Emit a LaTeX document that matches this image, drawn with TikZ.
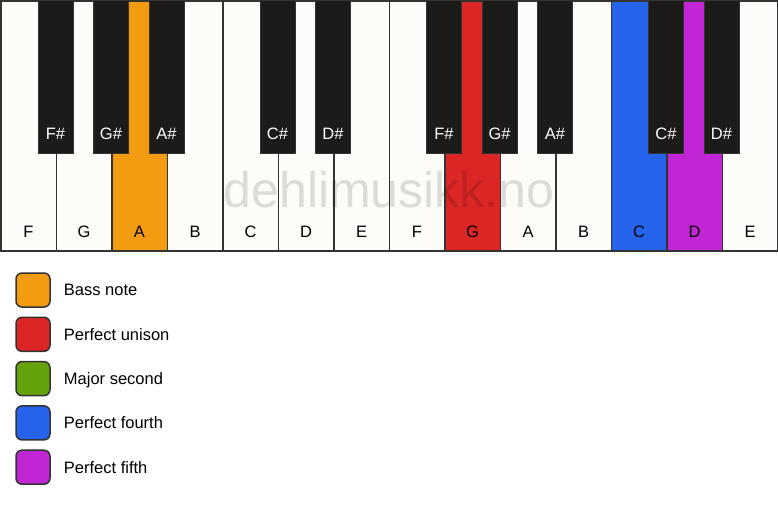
\documentclass[tikz,border=0pt]{standalone}
\usepackage{fontspec}
\setmainfont{Liberation Sans}
\usetikzlibrary{positioning}

\definecolor{keywhite}{HTML}{FDFCF9}
\definecolor{keyblack}{HTML}{1C1B1A}
\definecolor{keyline}{HTML}{333333}
\definecolor{bassorange}{HTML}{F39C12}
\definecolor{unisonred}{HTML}{DC2626}
\definecolor{secondgreen}{HTML}{65A30D}
\definecolor{fourthblue}{HTML}{2563EB}
\definecolor{fifthpurple}{HTML}{C026D3}

\begin{document}
\begin{tikzpicture}[x=1pt, y=-1pt,
  whitekey/.style={draw=keyline, line width=1.5pt, minimum width=55.5pt, minimum height=250pt, inner sep=0pt, anchor=north west},
  blackkey/.style={draw=keyline, fill=keyblack, line width=1pt, minimum width=35pt, minimum height=153pt, inner sep=0pt, anchor=north},
  keylabel/.style={font=\fontsize{16.5}{19}\selectfont},
  swatch/.style={draw=keyline, line width=1.5pt, rounded corners=6pt, minimum size=34pt, inner sep=0pt},
  legendtext/.style={font=\fontsize{16.5}{19}\selectfont, anchor=west, inner sep=0pt, text height=12pt, text depth=0.2pt}]

  \useasboundingbox (0,0) rectangle (778,506);
  \fill[white] (0,0) rectangle (778,506);

  % white keys
  \foreach \n/\c [count=\i from 0] in {F/keywhite, G/keywhite, A/bassorange, B/keywhite, C/keywhite, D/keywhite, E/keywhite,
                                       F/keywhite, G/unisonred, A/keywhite, B/keywhite, C/fourthblue, D/fifthpurple, E/keywhite} {
    \node[whitekey, fill=\c] (w\i) at (\i*55.5,0) {};
    \node[keylabel] (wl\i) at ([yshift=20pt]w\i.south) {\n};
  }

  \node[font=\fontsize{50}{50}\selectfont, text=black, text opacity=0.13, anchor=base] (mark) at (389,207) {dehlimusikk.no};

  % black keys
  \foreach \k/\n in {1/F\#, 2/G\#, 3/A\#, 5/C\#, 6/D\#, 8/F\#, 9/G\#, 10/A\#, 12/C\#, 13/D\#} {
    \node[blackkey] (b\k) at (\k*55.5,0) {};
    \node[keylabel, text=white] (bl\k) at ([yshift=20pt]b\k.south) {\n};
  }

  % legend
  \foreach \c/\t [count=\j from 0] in {bassorange/Bass note, unisonred/Perfect unison, secondgreen/Major second,
                                       fourthblue/Perfect fourth, fifthpurple/Perfect fifth} {
    \node[swatch, fill=\c] (s\j) at (33,290+\j*44.3) {};
    \node[legendtext, right=13pt of s\j] (t\j) {\t};
  }

\end{tikzpicture}
\end{document}
